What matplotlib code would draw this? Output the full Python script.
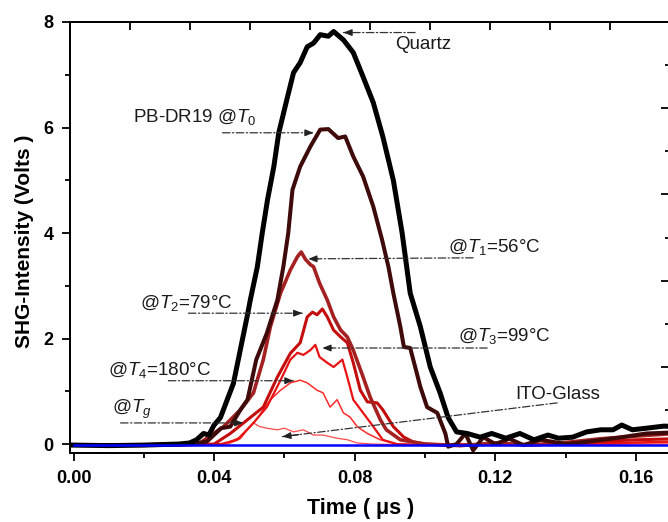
import matplotlib
matplotlib.use("Agg")
import matplotlib.pyplot as plt
from matplotlib.ticker import MultipleLocator, NullFormatter

plt.rcParams['font.family'] = ['Liberation Sans', 'DejaVu Sans']
plt.rcParams['mathtext.fontset'] = 'custom'
plt.rcParams['mathtext.rm'] = 'Liberation Sans'
plt.rcParams['mathtext.it'] = 'Liberation Sans:italic'

# ---------------- data ----------------
quartz_x = [0, 0.01, 0.02, 0.03, 0.033, 0.035, 0.037, 0.0385, 0.040, 0.0418, 0.0455, 0.0475,
            0.0495, 0.0503, 0.0523, 0.0537, 0.0552, 0.057, 0.0584, 0.0607, 0.0626, 0.0645,
            0.0665, 0.0683, 0.0702, 0.0725, 0.074, 0.0768, 0.0796, 0.0824, 0.0853, 0.088,
            0.091, 0.0935, 0.0958, 0.0987, 0.1015, 0.1043, 0.1066, 0.109, 0.112, 0.1157,
            0.119, 0.123, 0.127, 0.131, 0.135, 0.138, 0.142, 0.146, 0.150, 0.1535, 0.156,
            0.159, 0.163, 0.168, 0.171]
quartz_y = [-0.02, -0.03, -0.02, 0.0, 0.02, 0.08, 0.2, 0.17, 0.36, 0.5, 1.15, 1.8,
            2.45, 2.73, 3.36, 4.0, 4.63, 5.26, 5.9, 6.53, 7.04, 7.23,
            7.53, 7.6, 7.76, 7.73, 7.82, 7.66, 7.42, 6.96, 6.47, 5.83,
            5.0, 4.0, 2.86, 2.22, 1.46, 0.97, 0.5, 0.23, 0.2, 0.13,
            0.2, 0.11, 0.2, 0.08, 0.17, 0.11, 0.13, 0.23, 0.27, 0.27, 0.36,
            0.27, 0.3, 0.34, 0.33]

t0_x = [0, 0.02, 0.034, 0.038, 0.042, 0.0446, 0.0475, 0.0495, 0.052, 0.055, 0.058, 0.0597,
        0.0611, 0.0623, 0.0645, 0.0674, 0.0702, 0.0725, 0.0753, 0.0773, 0.0796, 0.0824, 0.0853,
        0.0878, 0.0896, 0.091, 0.093, 0.094, 0.0958, 0.0987, 0.1006, 0.1035, 0.1058, 0.1066,
        0.109, 0.1115, 0.1137, 0.1166, 0.12, 0.124, 0.128, 0.133, 0.14, 0.147, 0.155, 0.163, 0.171]
t0_y = [-0.02, -0.02, 0.0, 0.05, 0.3, 0.33, 0.65, 0.84, 1.6, 2.1, 2.73, 3.36,
        4.0, 4.82, 5.26, 5.64, 5.96, 5.97, 5.8, 5.83, 5.45, 5.07, 4.5,
        3.87, 3.36, 2.86, 2.22, 1.84, 1.82, 1.08, 0.7, 0.59, 0.2, -0.05,
        0.0, 0.2, -0.12, 0.13, 0.0, 0.1, -0.02, 0.08, 0.0, 0.05, 0.12, 0.2, 0.22]

t1_x = [0, 0.03, 0.036, 0.0427, 0.0475, 0.0512, 0.054, 0.056, 0.0589, 0.0617, 0.0637, 0.0648,
        0.066, 0.0674, 0.0683, 0.070, 0.0722, 0.074, 0.076, 0.0779, 0.0796, 0.0824, 0.0844,
        0.0873, 0.089, 0.093, 0.10, 0.11, 0.12, 0.13, 0.14, 0.15, 0.16, 0.171]
t1_y = [-0.02, -0.02, 0.02, 0.33, 0.65, 0.97, 1.6, 2.22, 2.86, 3.3, 3.55, 3.64,
        3.5, 3.4, 3.36, 3.05, 2.73, 2.41, 2.16, 2.03, 1.78, 1.27, 0.89,
        0.46, 0.27, 0.08, 0.0, -0.03, 0.02, -0.02, 0.03, 0.1, 0.15, 0.2]

t2_x = [0, 0.03, 0.04, 0.0446, 0.0495, 0.054, 0.058, 0.0617, 0.0645, 0.0665, 0.068, 0.0693,
        0.0708, 0.0722, 0.074, 0.076, 0.0779, 0.0796, 0.0816, 0.0836, 0.0864, 0.088, 0.091,
        0.094, 0.0967, 0.10, 0.11, 0.12, 0.13, 0.14, 0.15, 0.16, 0.171]
t2_y = [-0.02, -0.02, 0.0, 0.2, 0.46, 0.7, 1.27, 1.72, 1.92, 2.41, 2.5, 2.45,
        2.56, 2.41, 2.16, 2.03, 1.92, 1.54, 1.02, 0.8, 0.78, 0.65, 0.33,
        0.13, 0.04, 0.0, -0.03, 0.0, -0.02, 0.02, 0.05, 0.08, 0.1]

t3_x = [0, 0.03, 0.042, 0.0466, 0.0512, 0.055, 0.0589, 0.0617, 0.0637, 0.0654, 0.0674, 0.0688,
        0.070, 0.0722, 0.074, 0.0765, 0.0779, 0.0796, 0.0824, 0.0853, 0.088, 0.092, 0.10,
        0.11, 0.12, 0.14, 0.16, 0.171]
t3_y = [-0.02, -0.02, 0.0, 0.08, 0.4, 0.7, 1.21, 1.6, 1.73, 1.69, 1.78, 1.88,
        1.65, 1.54, 1.46, 1.6, 1.27, 0.84, 0.59, 0.33, 0.08, 0.0, -0.02,
        0.0, -0.02, 0.0, 0.03, 0.05]

t4_x = [0, 0.03, 0.043, 0.0475, 0.052, 0.056, 0.0589, 0.0617, 0.0645, 0.0665, 0.0693, 0.071,
        0.073, 0.075, 0.0768, 0.0787, 0.0807, 0.0836, 0.0873, 0.092, 0.10, 0.12, 0.14, 0.16, 0.171]
t4_y = [-0.02, -0.02, 0.0, 0.13, 0.46, 0.84, 1.02, 1.16, 1.21, 1.16, 1.02, 0.97,
        0.7, 0.84, 0.59, 0.51, 0.33, 0.2, 0.08, 0.0, -0.02, 0.0, -0.02, 0.02, 0.03]

tg_x = [0, 0.03, 0.044, 0.0475, 0.0495, 0.0512, 0.053, 0.055, 0.058, 0.060, 0.0626, 0.0654,
        0.0683, 0.071, 0.075, 0.078, 0.0807, 0.085, 0.10, 0.12, 0.14, 0.16, 0.171]
tg_y = [-0.02, -0.02, 0.0, 0.1, 0.27, 0.4, 0.33, 0.3, 0.27, 0.3, 0.23, 0.27,
        0.17, 0.17, 0.11, 0.08, 0.02, 0.0, -0.02, 0.0, -0.02, 0.0, 0.0]

ito_x = [0, 0.171]
ito_y = [-0.015, -0.015]

x_ticks = [0.00, 0.04, 0.08, 0.12, 0.16]
x_ticklabels = ['0.00', '0.04', '0.08', '0.12', '0.16']
y_ticks = [0, 2, 4, 6, 8]

# ---------------- figure ----------------
fig = plt.figure(figsize=(6.68, 5.22), dpi=100)
ax = fig.add_axes([70 / 668, 69 / 522, 601 / 668, 431 / 522])

ax.plot(tg_x, tg_y, color='#ff4a4a', lw=0.9, zorder=2)
ax.plot(t4_x, t4_y, color='#ff2a2a', lw=1.1, zorder=3)
ax.plot(t3_x, t3_y, color='#e81212', lw=1.6, zorder=4)
ax.plot(t2_x, t2_y, color='#c40c0c', lw=2.2, zorder=5)
ax.plot(t1_x, t1_y, color='#a52020', lw=2.6, zorder=6)
ax.plot(t0_x, t0_y, color='#3e0a0a', lw=2.9, zorder=7)
ax.plot(quartz_x, quartz_y, color='black', lw=3.6, zorder=8)
ax.plot(ito_x, ito_y, color='#0000ff', lw=1.8, zorder=9)

ax.set_xlim(-0.001, 0.170)
ax.set_ylim(-0.17, 8.0)

ax.set_xticks(x_ticks)
ax.set_xticklabels(x_ticklabels)
ax.set_yticks(y_ticks)
ax.xaxis.set_minor_locator(MultipleLocator(0.02))
ax.yaxis.set_minor_locator(MultipleLocator(1))
ax.tick_params(axis='both', which='major', direction='out', length=6, width=1.3,
               labelsize=13, pad=6)
ax.tick_params(axis='both', which='minor', direction='out', length=3.5, width=1.3)
ax.tick_params(top=False, right=False, which='both')
for lab in ax.get_xticklabels() + ax.get_yticklabels():
    lab.set_fontweight('bold')
for s in ax.spines.values():
    s.set_linewidth(1.3)

ax.set_xlabel('Time ( \u03bcs )', fontsize=15.5, fontweight='bold')
ax.set_ylabel('SHG-Intensity (Volts )', fontsize=15, fontweight='bold')
ax.xaxis.set_label_coords(0.483, -0.105)
ax.yaxis.set_label_coords(-0.060, 0.49)

# mismatched top / right tick sets
axt = ax.twiny()
axt.set_xlim(0, 10.017)
axt.xaxis.set_major_locator(MultipleLocator(1))
axt.xaxis.set_major_formatter(NullFormatter())
axt.tick_params(axis='x', direction='in', length=6, width=1.3, top=True, bottom=False)
axr = ax.twinx()
axr.set_ylim(0, 10)
axr.yaxis.set_major_locator(MultipleLocator(2))
axr.yaxis.set_minor_locator(MultipleLocator(1))
axr.yaxis.set_major_formatter(NullFormatter())
axr.tick_params(axis='y', which='major', direction='in', length=7, width=1.3)
axr.tick_params(axis='y', which='minor', direction='in', length=4, width=1.3)
for a in (axt, axr):
    for s in a.spines.values():
        s.set_linewidth(1.3)

# ---------------- annotations ----------------
labels = ['Quartz', r'PB-DR19 @$\mathit{T}_{\mathit{0}}$', r'@$\mathit{T}_{\mathit{1}}$=56°C',
          r'@$\mathit{T}_{\mathit{2}}$=79°C', r'@$\mathit{T}_{\mathit{3}}$=99°C',
          r'@$\mathit{T}_{\mathit{4}}$=180°C', r'@$\mathit{T}_{\mathit{g}}$', 'ITO-Glass']
text_pos = [(0.0915, 7.57), (0.0168, 6.2), (0.1066, 3.74), (0.0188, 2.67),
            (0.1095, 2.05), (0.0097, 1.40), (0.011, 0.65), (0.1257, 0.93)]
tails = [(0.0972, 7.80), (0.0424, 5.90), (0.1137, 3.53), (0.0327, 2.48),
         (0.1177, 1.82), (0.0270, 1.20), (0.0134, 0.40), (0.1376, 0.78)]
tips = [(0.0768, 7.80), (0.0683, 5.90), (0.0668, 3.51), (0.0651, 2.48),
        (0.0708, 1.82), (0.0626, 1.20), (0.0483, 0.40), (0.0594, 0.14)]

for lab, tp, tl, tip in zip(labels, text_pos, tails, tips):
    ax.text(tp[0], tp[1], lab, fontsize=13.5, ha='left', va='center', color='#1a1a1a', zorder=10)
    ax.annotate('', xy=tip, xytext=tl,
                arrowprops=dict(arrowstyle='-', linestyle=(0, (6, 2, 1, 2)), lw=0.9,
                                color='#333333', shrinkA=0, shrinkB=0), zorder=10)
    dx = tip[0] - tl[0]
    dy = tip[1] - tl[1]
    pre = (tip[0] - 0.06 * dx, tip[1] - 0.06 * dy)
    ax.annotate('', xy=tip, xytext=pre,
                arrowprops=dict(arrowstyle='-|>,head_length=0.5,head_width=0.2', lw=0.9,
                                color='#222222', shrinkA=0, shrinkB=0), zorder=10)

fig.savefig('out.png', dpi=100)
